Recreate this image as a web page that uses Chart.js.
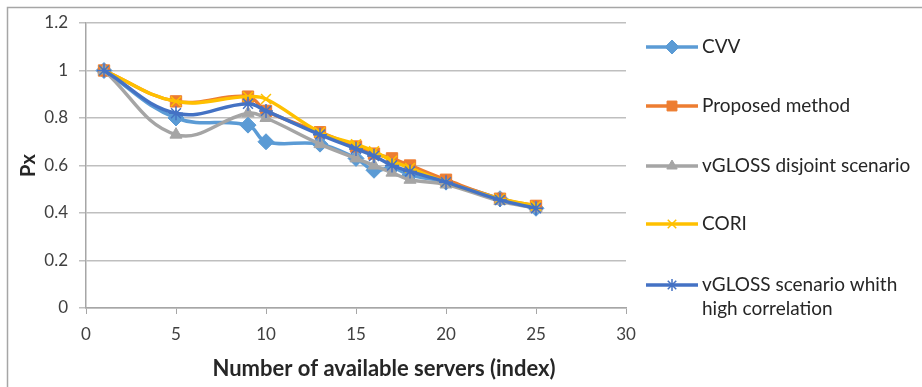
<!DOCTYPE html>
<html>
<head>
<meta charset="utf-8">
<script src="https://cdn.jsdelivr.net/npm/chart.js@4/dist/chart.umd.min.js"></script>
<style>
  html, body { margin: 0; padding: 0; background: #fff; }
  #wrap { width: 922px; height: 387px; }
</style>
</head>
<body>
<div id="wrap"><canvas id="chart" width="922" height="387"></canvas></div>
<script>
// servers (index) on the x axis
const servers = [1, 5, 9, 10, 13, 15, 16, 17, 18, 20, 23, 25];

const cvv      = [1.00, 0.80, 0.77, 0.70, 0.69, 0.63, 0.58, 0.59, 0.56, 0.53, 0.46, 0.42];
const proposed = [1.00, 0.87, 0.89, 0.83, 0.74, 0.68, 0.65, 0.63, 0.60, 0.54, 0.46, 0.43];
const disjoint = [1.00, 0.73, 0.82, 0.80, 0.69, 0.63, 0.60, 0.57, 0.54, 0.52, 0.45, 0.42];
const cori     = [1.00, 0.87, 0.89, 0.88, 0.74, 0.69, 0.66, 0.62, 0.59, 0.53, 0.46, 0.43];
const highCorr = [1.00, 0.82, 0.86, 0.83, 0.73, 0.67, 0.64, 0.60, 0.575, 0.53, 0.455, 0.42];

const seriesNames = ["CVV", "Proposed method", "vGLOSS disjoint scenario", "CORI", "vGLOSS scenario whith\nhigh correlation"];
const xTitle = "Number of available servers (index)";

const FONT = "Lato, sans-serif";

function pts(vals) {
    return servers.map((x, i) => ({ x: x, y: vals[i] }));
}

function makeSet(idx, vals, color, style, radius) {
    return {
        label: seriesNames[idx],
        data: pts(vals),
        order: 4 - idx, // later series drawn on top, like Excel
        borderColor: color,
        backgroundColor: color,
        borderWidth: 3.5,
        pointStyle: style,
        pointRadius: radius,
        pointBorderWidth: style === 'star' || style === 'crossRot' ? 1.5 : 1,
        pointBorderColor: color,
        tension: 0.4
    };
}

// legend on the right (line with the marker in the middle), x title, frame
const sideLegend = {
    id: 'sideLegend',
    afterDraw(chart) {
        const ctx = chart.ctx;
        const rows = [47, 106, 166, 224, 285];
        ctx.save();
        chart.data.datasets.forEach((ds, i) => {
            const y = rows[i];
            ctx.strokeStyle = ds.borderColor;
            ctx.lineWidth = 3.5;
            ctx.beginPath();
            ctx.moveTo(646, y);
            ctx.lineTo(698, y);
            ctx.stroke();
            ctx.fillStyle = ds.backgroundColor;
            ctx.strokeStyle = ds.borderColor;
            ctx.lineWidth = ds.pointBorderWidth;
            Chart.helpers.drawPoint(ctx, { pointStyle: ds.pointStyle, radius: ds.pointRadius - 1, rotation: 0, borderWidth: ds.pointBorderWidth }, 672, y);
            ctx.fillStyle = '#262626';
            ctx.font = "19px " + FONT;
            ctx.textBaseline = 'middle';
            ctx.textAlign = 'left';
            seriesNames[i].split("\n").forEach((line, k) => {
                ctx.fillText(line, 702, y + k * 24);
            });
        });
        // x axis title, centred like the original
        ctx.fillStyle = '#262626';
        ctx.font = "bold 22px " + FONT;
        ctx.textAlign = 'center';
        ctx.textBaseline = 'middle';
        ctx.fillText(xTitle, 384, 369);
        // chart frame edges
        ctx.strokeStyle = '#a6a6a6';
        ctx.lineWidth = 1.5;
        ctx.beginPath();
        ctx.moveTo(7.5, 387);
        ctx.lineTo(7.5, 7.5);
        ctx.lineTo(922, 7.5);
        ctx.stroke();
        ctx.restore();
    }
};

new Chart(document.getElementById('chart'), {
    type: 'line',
    data: {
        datasets: [
            makeSet(0, cvv, '#5B9BD5', 'rectRot', 8),
            makeSet(1, proposed, '#ED7D31', 'rect', 8),
            makeSet(2, disjoint, '#A5A5A5', 'triangle', 7),
            makeSet(3, cori, '#FFC000', 'crossRot', 7),
            makeSet(4, highCorr, '#4472C4', 'star', 7)
        ]
    },
    options: {
        responsive: false,
        animation: false,
        layout: { padding: { top: 23, right: 296, left: 0, bottom: 0 } },
        plugins: {
            legend: { display: false },
            tooltip: { enabled: false }
        },
        scales: {
            x: {
                type: 'linear',
                min: 0,
                max: 30,
                ticks: { stepSize: 5, color: '#404040', font: { family: FONT, size: 17 }, padding: 10 },
                grid: { drawOnChartArea: false, drawTicks: true, tickLength: 6, color: '#a6a6a6' },
                border: { color: '#a6a6a6', width: 1.5 },
                title: { display: false },
                afterFit(scale) { scale.height = 79; }
            },
            y: {
                min: 0,
                max: 1.2,
                ticks: {
                    stepSize: 0.2, color: '#404040', font: { family: FONT, size: 17 }, padding: 11,
                    callback: v => String(+v.toFixed(1))
                },
                grid: { color: '#bfbfbf', lineWidth: 1.5, tickLength: 7 },
                border: { color: '#a6a6a6', width: 1.5 },
                title: { display: true, text: 'Px', color: '#262626', font: { family: FONT, size: 20, weight: 'bold' }, padding: { top: 17, bottom: 0 } },
                afterFit(scale) { scale.width = 86; }
            }
        }
    },
    plugins: [sideLegend]
});
</script>
</body>
</html>
